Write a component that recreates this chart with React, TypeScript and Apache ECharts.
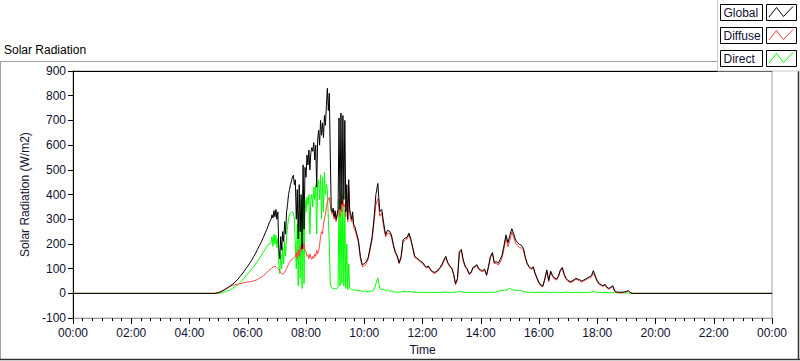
import React, { useEffect, useRef } from "react";
import * as echarts from "echarts";

// ---- time grid (segment starts, minutes step) ----
const dawnStart = "04:48";
const dawnStep = 4;
const morningStart = "06:48";
const morningStep = 2;
const middayStart = "09:40";
const middayStep = 4;
const afternoonStart = "13:00";
const afternoonStep = 4;

// ---- Global (W/m2) ----
const globalDawn = [
  0, 0, 2, 4, 7, 10, 14, 19, 24, 30,
  36, 42, 50, 58, 68, 78, 88, 100, 110, 122,
  134, 148, 162, 178, 193, 208, 226, 245, 262, 285,
];
const globalMorning = [
  300, 318, 305, 335, 310, 340, 300, 330, 180, 140,
  230, 175, 250, 210, 290, 240, 330, 360, 400, 420,
  440, 455, 470, 478, 440, 460, 300, 420, 220, 440,
  250, 400, 180, 520, 260, 510, 470, 560, 520, 580,
  500, 570, 590, 575, 610, 540, 600, 430, 620, 660,
  600, 700, 640, 690, 630, 720, 680, 760, 830, 740,
  810, 560, 340, 330, 345, 310, 335, 300, 320, 340,
  710, 340, 730, 360, 720, 380, 700, 330, 440, 300,
  460, 340, 320, 300, 330, 280,
];
const globalMidday = [
  275, 245, 215, 150, 116, 120, 128, 144, 184, 225,
  300, 400, 445, 331, 340, 285, 237, 255, 252, 237,
  197, 168, 152, 124, 150, 217, 224, 226, 244, 220,
  185, 150, 144, 138, 130, 126, 115, 106, 111, 98,
  90, 85, 88, 95, 105, 117, 135, 150, 125, 112,
];
const globalAfternoon = [
  104, 80, 40, 60, 170, 178, 135, 110, 100, 80,
  85, 105, 110, 116, 100, 95, 92, 98, 75, 110,
  150, 165, 125, 128, 122, 137, 155, 195, 237, 205,
  235, 262, 240, 215, 205, 198, 194, 182, 145, 120,
  108, 100, 108, 82, 62, 44, 34, 30, 60, 95,
  52, 90, 72, 62, 58, 70, 95, 105, 77, 60,
  52, 48, 50, 55, 61, 58, 55, 50, 54, 58,
  63, 67, 72, 92, 70, 51, 40, 35, 31, 37,
  25, 20, 25, 31, 10, 6, 5, 5, 5, 6,
  8, 11, 4, 0, 0,
];

// ---- Diffuse (W/m2) ----
const diffuseDawn = [
  0, 0, 0, 2, 6, 11, 16, 21, 25, 29,
  32, 34, 36, 37, 39, 41, 43, 45, 46, 47,
  48, 51, 53, 56, 61, 66, 72, 78, 86, 94,
];
const diffuseMorning = [
  100, 104, 106, 108, 110, 108, 104, 100, 95, 90,
  84, 80, 78, 80, 86, 92, 100, 110, 118, 124,
  130, 136, 140, 142, 145, 150, 165, 140, 175, 150,
  190, 170, 200, 180, 205, 175, 168, 150, 155, 140,
  160, 145, 138, 150, 142, 160, 150, 175, 160, 170,
  195, 230, 250, 240, 280, 300, 320, 350, 370, 385,
  388, 360, 330, 320, 335, 300, 320, 290, 310, 330,
  340, 310, 400, 330, 380, 350, 360, 310, 400, 290,
  430, 320, 300, 290, 310, 265,
];
const diffuseMidday = [
  262, 234, 206, 140, 108, 110, 120, 138, 176, 215,
  285, 360, 385, 312, 326, 268, 228, 242, 244, 228,
  192, 162, 147, 120, 144, 209, 216, 220, 236, 214,
  180, 145, 140, 134, 126, 122, 111, 102, 107, 94,
  86, 81, 84, 91, 101, 112, 130, 145, 121, 108,
];
const diffuseAfternoon = [
  100, 76, 35, 54, 162, 172, 130, 106, 96, 76,
  81, 101, 106, 112, 96, 90, 88, 94, 71, 106,
  145, 160, 121, 122, 114, 125, 145, 181, 225, 189,
  214, 248, 225, 203, 193, 185, 184, 174, 140, 116,
  104, 96, 104, 78, 58, 40, 30, 27, 56, 91,
  48, 86, 68, 58, 54, 66, 91, 101, 73, 56,
  48, 44, 46, 51, 57, 54, 51, 46, 50, 54,
  59, 63, 66, 82, 65, 47, 36, 32, 28, 34,
  22, 17, 22, 28, 7, 3, 2, 2, 2, 3,
  6, 10, 4, 0, 0,
];

// ---- Direct (W/m2) ----
const directDawn = [
  0, 0, 0, 0, 1, 3, 6, 9, 11, 15,
  20, 25, 30, 36, 44, 52, 61, 71, 80, 89,
  99, 108, 119, 130, 142, 154, 166, 180, 192, 200,
];
const directMorning = [
  205, 230, 190, 240, 200, 235, 185, 225, 120, 80,
  160, 100, 190, 120, 210, 150, 230, 270, 300, 320,
  325, 330, 330, 325, 300, 200, 100, 280, 30, 330,
  60, 380, 20, 420, 40, 380, 330, 390, 360, 400,
  240, 380, 400, 350, 430, 380, 440, 240, 440, 460,
  380, 480, 300, 470, 330, 490, 400, 440, 420, 300,
  200, 40, 25, 20, 22, 18, 20, 18, 20, 25,
  380, 30, 420, 40, 400, 30, 340, 20, 200, 15,
  120, 20, 18, 15, 15, 14,
];
const directMidday = [
  14, 12, 10, 12, 8, 10, 8, 6, 8, 10,
  14, 40, 62, 20, 14, 18, 10, 14, 8, 10,
  6, 6, 5, 5, 6, 8, 8, 6, 8, 6,
  5, 5, 4, 4, 4, 4, 4, 4, 4, 4,
  4, 4, 4, 4, 4, 5, 5, 6, 4, 4,
];
const directAfternoon = [
  4, 4, 5, 6, 8, 6, 5, 4, 4, 4,
  4, 4, 4, 4, 4, 5, 4, 4, 4, 4,
  5, 5, 4, 6, 8, 12, 10, 14, 12, 16,
  21, 14, 15, 12, 12, 13, 10, 8, 5, 4,
  4, 5, 4, 3, 4, 5, 4, 4, 5, 4,
  4, 3, 4, 5, 4, 4, 3, 4, 4, 5,
  4, 4, 3, 4, 5, 4, 4, 3, 4, 4,
  4, 4, 6, 10, 5, 4, 4, 4, 3, 3,
  3, 3, 3, 3, 3, 3, 3, 3, 3, 3,
  2, 1, 0, 0, 0,
];

const seriesNames = ["Global", "Diffuse", "Direct"];
const seriesColors = ["#000000", "#ff4040", "#00ff00"];
const xTickLabelsEvery = 120; // minutes
const yTicks = { min: -100, max: 900, interval: 100 };

const FONT = "'Liberation Sans', Arial, sans-serif";
const LABEL_COLOR = "#101030";

function toMinutes(hhmm: string): number {
  const [h, m] = hhmm.split(":").map(Number);
  return h * 60 + m;
}
function pairs(start: string, step: number, values: number[]): number[][] {
  const s = toMinutes(start);
  return values.map((v, i) => [s + i * step, v]);
}
function build(dawn: number[], morning: number[], midday: number[], afternoon: number[]) {
  return [
    [0, 0],
    ...pairs(dawnStart, dawnStep, dawn),
    ...pairs(morningStart, morningStep, morning),
    ...pairs(middayStart, middayStep, midday),
    ...pairs(afternoonStart, afternoonStep, afternoon),
    [1440, 0],
  ];
}
function fmt(v: number): string {
  const m = Math.round(v) % 1440;
  const h = Math.floor(m / 60);
  const mm = m % 60;
  return `${String(h).padStart(2, "0")}:${String(mm).padStart(2, "0")}`;
}

export default function App() {
  const ref = useRef<HTMLDivElement>(null);
  useEffect(() => {
    if (!ref.current) return;
    const chart = echarts.init(ref.current, undefined, { renderer: "svg" });

    const globalData = build(globalDawn, globalMorning, globalMidday, globalAfternoon);
    const diffuseData = build(diffuseDawn, diffuseMorning, diffuseMidday, diffuseAfternoon);
    const directData = build(directDawn, directMorning, directMidday, directAfternoon);
    const dataByName: Record<string, number[][]> = {
      Global: globalData,
      Diffuse: diffuseData,
      Direct: directData,
    };

    const legendGraphics: any[] = [
      {
        type: "rect",
        z: 100,
        shape: { x: 717.5, y: -1, width: 90, height: 72 },
        style: { fill: "#ffffff", stroke: "#c8c8c8", lineWidth: 1 },
      },
    ];
    seriesNames.forEach((name, i) => {
      const y0 = 4 + 23 * i;
      legendGraphics.push(
        {
          type: "rect",
          z: 101,
          shape: { x: 720.5, y: y0 + 0.5, width: 42, height: 16 },
          style: { fill: "#ffffff", stroke: "#000000", lineWidth: 1 },
        },
        {
          type: "text",
          z: 102,
          x: 723.5,
          y: y0 + 9,
          style: {
            text: name,
            font: `12px ${FONT}`,
            fill: LABEL_COLOR,
            verticalAlign: "middle",
            align: "left",
          },
        },
        {
          type: "rect",
          z: 101,
          shape: { x: 766.5, y: y0 + 0.5, width: 30, height: 16 },
          style: { fill: "#ffffff", stroke: "#000000", lineWidth: 1 },
        },
        {
          type: "polyline",
          z: 102,
          shape: {
            points: [
              [769, y0 + 13],
              [776.5, y0 + 3.5],
              [783.5, y0 + 12.5],
              [793, y0 + 2.5],
            ],
          },
          style: { stroke: seriesColors[i], lineWidth: 1, fill: "none" },
        }
      );
    });

    const panelGraphics: any[] = [
      { type: "line", z: 50, shape: { x1: 0, y1: 61.5, x2: 717, y2: 61.5 }, style: { stroke: "#a0a0a0", lineWidth: 1 } },
      { type: "line", z: 50, shape: { x1: 0.5, y1: 61.5, x2: 0.5, y2: 360 }, style: { stroke: "#a0a0a0", lineWidth: 1 } },
      { type: "line", z: 50, shape: { x1: 0, y1: 359.5, x2: 800, y2: 359.5 }, style: { stroke: "#303030", lineWidth: 1.5 } },
      { type: "line", z: 50, shape: { x1: 798.5, y1: 70, x2: 798.5, y2: 360 }, style: { stroke: "#303030", lineWidth: 1.5 } },
    ];

    const drawOrder = ["Direct", "Diffuse", "Global"];

    chart.setOption({
      animation: false,
      backgroundColor: "#ffffff",
      title: {
        text: "Solar Radiation",
        left: 4,
        top: 44,
        padding: 0,
        textStyle: { fontSize: 12, fontWeight: "normal", color: "#000000", fontFamily: FONT },
      },
      grid: {
        left: 73,
        right: 28,
        top: 71,
        bottom: 40,
        show: true,
        borderColor: "#a0a0a0",
        borderWidth: 1,
        backgroundColor: "#ffffff",
      },
      xAxis: [
        {
          type: "value",
          min: 0,
          max: 1440,
          interval: xTickLabelsEvery,
          name: "Time",
          nameLocation: "middle",
          nameGap: 25,
          nameTextStyle: { fontSize: 12, color: LABEL_COLOR, fontFamily: FONT },
          axisLine: { show: true, onZero: false, lineStyle: { color: "#a0a0a0", width: 1 } },
          axisTick: { show: true, length: 6, lineStyle: { color: "#000000" } },
          minorTick: { show: true, splitNumber: 6, length: 3, lineStyle: { color: "#000000" } },
          axisLabel: {
            margin: 9,
            fontSize: 12,
            color: LABEL_COLOR,
            fontFamily: FONT,
            formatter: (v: number) => fmt(v),
          },
          splitLine: { show: false },
        },
        {
          type: "value",
          position: "top",
          min: 0,
          max: 1440,
          axisLine: { show: true, onZero: false, lineStyle: { color: "#000000", width: 1 } },
          axisTick: { show: false },
          axisLabel: { show: false },
          splitLine: { show: false },
        },
      ],
      yAxis: {
        type: "value",
        min: yTicks.min,
        max: yTicks.max,
        interval: yTicks.interval,
        name: "Solar Radiation (W/m2)",
        nameLocation: "middle",
        nameGap: 34,
        nameTextStyle: { fontSize: 12, color: LABEL_COLOR, fontFamily: FONT },
        axisLine: { show: true, onZero: false, lineStyle: { color: "#000000", width: 1 } },
        axisTick: { show: true, length: 5, lineStyle: { color: "#000000" } },
        axisLabel: { margin: 7, fontSize: 12, color: LABEL_COLOR, fontFamily: FONT },
        splitLine: { show: false },
      },
      series: drawOrder.map((name) => ({
        name,
        type: "line",
        xAxisIndex: 0,
        data: dataByName[name],
        showSymbol: false,
        symbol: "none",
        lineStyle: { color: seriesColors[seriesNames.indexOf(name)], width: 1 },
        itemStyle: { color: seriesColors[seriesNames.indexOf(name)] },
      })),
      graphic: [...panelGraphics, ...legendGraphics],
    });

    return () => chart.dispose();
  }, []);

  return (
    <div
      ref={ref}
      style={{ position: "fixed", left: 0, top: 0, width: 800, height: 361, background: "#ffffff" }}
    />
  );
}
